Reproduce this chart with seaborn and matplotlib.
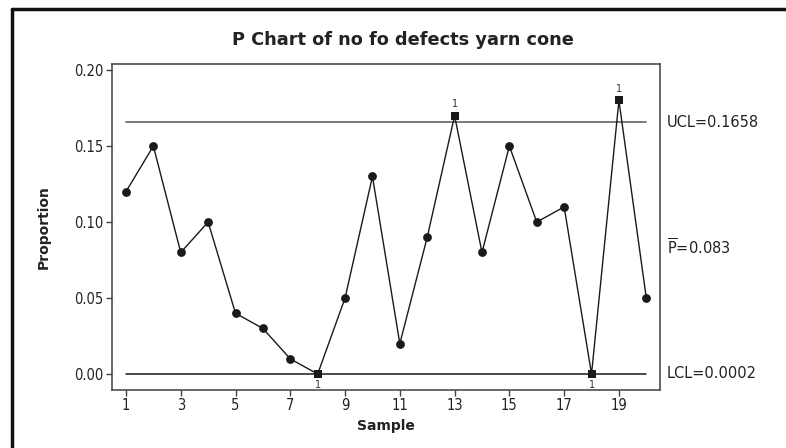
import matplotlib
matplotlib.use("Agg")
import matplotlib.pyplot as plt
from matplotlib.lines import Line2D
import seaborn as sns
import pandas as pd

samples = list(range(1, 21))
proportion = [0.12, 0.15, 0.08, 0.10, 0.04, 0.03, 0.01, 0.00, 0.05, 0.13,
              0.02, 0.09, 0.17, 0.08, 0.15, 0.10, 0.11, 0.00, 0.18, 0.05]
ucl = 0.1658
pbar = 0.083
lcl = 0.0002
ucl_label = "UCL=0.1658"
pbar_label = r"$\overline{\mathrm{P}}$=0.083"
lcl_label = "LCL=0.0002"
x_ticks = [1, 3, 5, 7, 9, 11, 13, 15, 17, 19]
y_ticks = [0.00, 0.05, 0.10, 0.15, 0.20]
title = "P Chart of no fo defects yarn cone"

df = pd.DataFrame({"Sample": samples, "Proportion": proportion})
df["flag"] = (df["Proportion"] > ucl) | (df["Proportion"] < lcl)

sns.set_style("white")
plt.rcParams["font.family"] = ["DejaVu Sans"]

fig = plt.figure(figsize=(7.86, 4.48), dpi=100)
ax = fig.add_axes([112 / 786, 1 - 390 / 448, (660 - 112) / 786, (390 - 64) / 448])

# control limit lines
ax.plot([1, 20], [ucl, ucl], color="#707070", lw=1.3, zorder=1)
ax.plot([1, 20], [lcl, lcl], color="#1a1a1a", lw=1.1, zorder=1)

sns.lineplot(data=df, x="Sample", y="Proportion", ax=ax, color="#1a1a1a",
             lw=1.0, zorder=2, legend=False)
normal = df[~df["flag"]]
flagged = df[df["flag"]]
sns.scatterplot(data=normal, x="Sample", y="Proportion", ax=ax, marker="o",
                s=40, color="#1a1a1a", edgecolor="#1a1a1a", linewidth=0,
                zorder=3, legend=False)
sns.scatterplot(data=flagged, x="Sample", y="Proportion", ax=ax, marker="s",
                s=40, color="#1a1a1a", edgecolor="#1a1a1a", linewidth=0,
                zorder=3, legend=False)
for _, r in flagged.iterrows():
    if r["Proportion"] > ucl:
        ax.annotate("1", (r["Sample"], r["Proportion"]), xytext=(0, 5),
                    textcoords="offset points", ha="center", va="bottom",
                    fontsize=7, color="#333333")
    else:
        ax.annotate("1", (r["Sample"], r["Proportion"]), xytext=(0, -4),
                    textcoords="offset points", ha="center", va="top",
                    fontsize=7, color="#333333")

ax.set_xlim(0.49, 20.5)
ax.set_ylim(-0.0105, 0.204)
ax.set_xticks(x_ticks)
ax.set_yticks(y_ticks)
ax.set_yticklabels([f"{v:.2f}" for v in y_ticks])
ax.tick_params(axis="both", direction="out", length=4, width=1,
               color="#404040", labelsize=10.5, labelcolor="#222222", pad=2,
               bottom=True, left=True)
for lab in ax.get_xticklabels() + ax.get_yticklabels():
    lab.set_fontstretch("condensed")
for sp in ax.spines.values():
    sp.set_color("#404040")
    sp.set_linewidth(1.1)

ax.set_xlabel("Sample", fontsize=10, fontweight="bold", color="#222222", labelpad=4)
ax.set_ylabel("Proportion", fontsize=10, fontweight="bold", color="#222222", labelpad=17)
fig.text(403 / 786, 1 - 40 / 448, title, fontsize=12.8, fontweight="bold",
         color="#222222", ha="center", va="center")

# limit labels at right
ax.text(1.012, ucl, ucl_label, transform=ax.get_yaxis_transform(), va="center",
        ha="left", fontsize=10.5, color="#222222")
ax.text(1.012, pbar, pbar_label, transform=ax.get_yaxis_transform(), va="center",
        ha="left", fontsize=10.5, color="#222222")
ax.text(1.012, lcl, lcl_label, transform=ax.get_yaxis_transform(), va="center",
        ha="left", fontsize=10.5, color="#222222")

# outer frame (top and left)
fig.add_artist(Line2D([12 / 786, 1.0], [1 - 9 / 448, 1 - 9 / 448],
                      transform=fig.transFigure, color="#111111", lw=2.5))
fig.add_artist(Line2D([12 / 786, 12 / 786], [0.0, 1 - 9 / 448],
                      transform=fig.transFigure, color="#111111", lw=2.5))

fig.savefig("out.png", dpi=100, facecolor="white")
